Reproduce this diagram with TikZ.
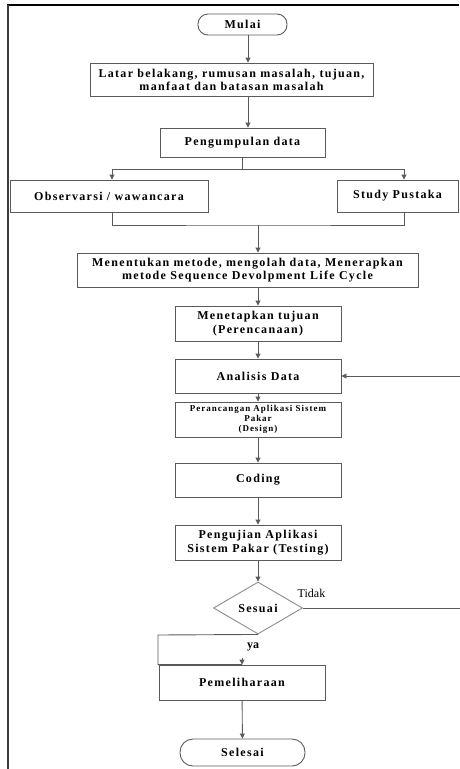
\documentclass[tikz,border=0pt]{standalone}
\usepackage{fontspec}
\setmainfont{Liberation Serif}
\newfontfamily\flowfont[LetterSpace=11]{Liberation Serif}
\usetikzlibrary{arrows.meta,shapes.geometric,calc}
\definecolor{FlowGray}{HTML}{5A5A5A}
\definecolor{FrameGray}{HTML}{3C3C3C}
\tikzset{box/.style={draw=FlowGray,line width=.9pt,align=center,inner sep=1pt,font=\flowfont\bfseries\fontsize{12}{14.5}\selectfont},
size/.style 2 args={minimum width=#1,minimum height=#2},
term/.style={box,rounded corners=10pt},
dec/.style={box,diamond,draw=FlowGray!70,aspect=1.7,inner sep=0pt},
arr/.style={-{Triangle[width=5pt,length=5pt]},FlowGray,line width=.9pt},
lbl/.style={font=\fontsize{12}{14}\selectfont}}
\begin{document}
\begin{tikzpicture}[x=1pt,y=-1pt]
\useasboundingbox (0,0) rectangle (459,769);
\draw[line width=2pt] (7,5)--(459,5);
\draw[line width=1.6pt,FrameGray] (8,4.5)--(8,769);
\node[term,size={89pt}{21pt}] (mulai) at (242.5,24.5) {Mulai};
\node[box,size={283pt}{33pt},font=\flowfont\bfseries\fontsize{12}{13}\selectfont] (latar) at (231.5,79.5) {Latar belakang, rumusan masalah, tujuan,\\manfaat dan batasan masalah};
\node[box,size={165pt}{29pt}] (kumpul) at (242.5,142.5) {Pengumpulan data};
\node[box,size={198pt}{32pt}] (obs) at (109,196) {Observarsi / wawancara};
\node[box,size={121pt}{32pt}] (pustaka) at (397.5,196) {Study Pustaka};
\node[box,size={341pt}{34pt},font=\flowfont\bfseries\fontsize{12}{13.5}\selectfont] (metode) at (247.5,270) {Menentukan metode, mengolah data, Menerapkan\\metode Sequence Devolpment Life Cycle};
\node[box,size={166pt}{35pt}] (tetap) at (258,323.5) {Menetapkan tujuan\\(Perencanaan)};
\node[box,size={166pt}{34pt}] (analisis) at (258,376) {Analisis Data};
\node[box,size={166pt}{35pt},font=\flowfont\bfseries\fontsize{9}{10}\selectfont] (rancang) at (258,419.5) {Perancangan Aplikasi Sistem\\Pakar\\(Design)};
\node[box,size={166pt}{34pt}] (coding) at (258,480) {Coding};
\node[box,size={166pt}{35pt}] (uji) at (258,542.5) {Pengujian Aplikasi\\Sistem Pakar (Testing)};
\node[dec,size={89pt}{52pt}] (sesuai) at (258,608) {Sesuai};
\node[box,size={166pt}{35pt}] (pelihara) at (242,682.5) {Pemeliharaan};
\node[term,size={125pt}{27pt},rounded corners=13pt] (selesai) at (242.5,752.5) {Selesai};
\draw[arr] ([xshift=5.5pt]mulai.south)--([xshift=5.5pt]mulai.south |- latar.north);
\draw[arr] ([xshift=5.5pt]mulai.south |- latar.south)--([xshift=5.5pt]mulai.south |- kumpul.north);
\coordinate (pisah) at (242.5,169);
\draw[FlowGray,line width=.9pt] (kumpul.south)--(pisah);
\draw[arr] (pisah)-|([xshift=3pt]obs.north);
\draw[arr] (pisah)-|([xshift=6.5pt]pustaka.north);
\coordinate (gabung) at (258,225);
\draw[FlowGray,line width=.9pt] ([xshift=3pt]obs.south)|-(gabung)-|([xshift=6.5pt]pustaka.south);
\draw[arr] (gabung)--(gabung |- metode.north);
\draw[arr] (tetap.north |- metode.south)--(tetap.north);
\draw[arr] (tetap)--(analisis);
\draw[arr] (analisis)--(rancang);
\draw[arr] (rancang)--(coding);
\draw[arr] (coding)--(uji);
\draw[arr] (uji)--(sesuai);
\coordinate (balik) at (463,608);
\draw[arr] (sesuai.east)--(balik)|-(analisis.east);
\node[lbl] (tidak) at (311.5,593) {Tidak};
\coordinate (yakiri) at (158,635);
\draw[FlowGray,line width=.9pt] (sesuai.south)--(yakiri)--(yakiri |- pelihara.north)--(pelihara.north);
\draw[arr] ([yshift=7pt]pelihara.north)--(pelihara.north);
\node[lbl,font=\bfseries\fontsize{12}{14}\selectfont] (ya) at (253,647) {ya};
\draw[arr] (pelihara)--(selesai);
\end{tikzpicture}
\end{document}
